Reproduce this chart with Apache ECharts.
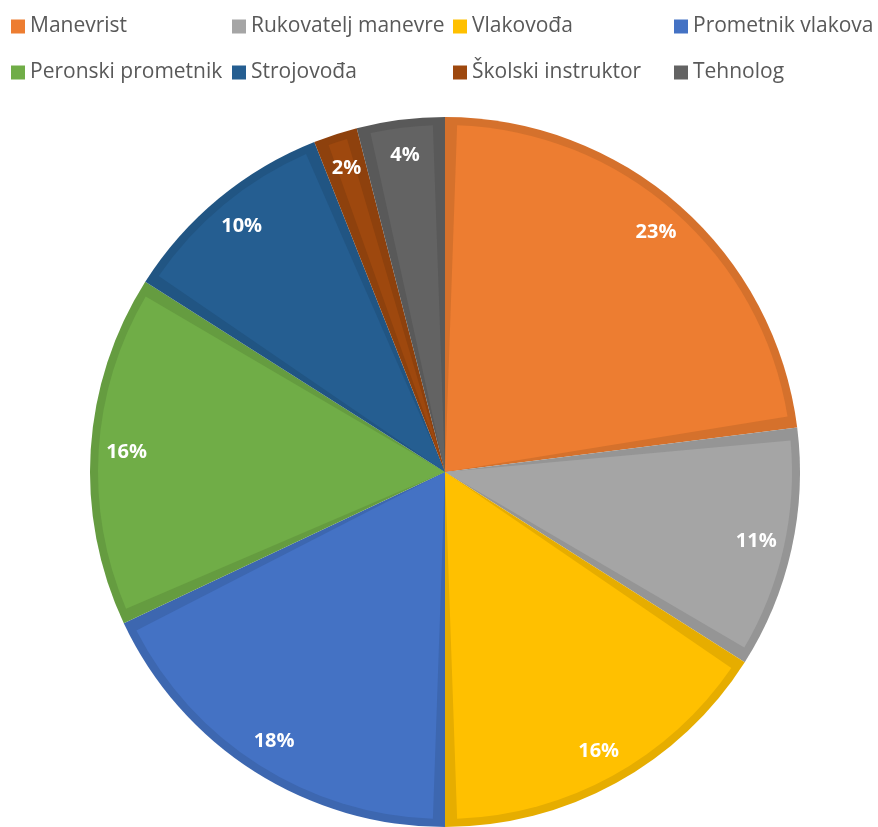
<!DOCTYPE html>
<html>
<head>
<meta charset="utf-8">
<script src="https://cdn.jsdelivr.net/npm/echarts@6/dist/echarts.min.js"></script>
<style>
html,body{margin:0;padding:0;background:#fff;}
#chart{width:878px;height:827px;}
</style>
</head>
<body>
<div id="chart"></div>
<script>
var categories = ['Manevrist', 'Rukovatelj manevre', 'Vlakovođa', 'Prometnik vlakova', 'Peronski prometnik', 'Strojovođa', 'Školski instruktor', 'Tehnolog'];
var values = [23, 11, 16, 18, 16, 10, 2, 4];
var palette = ['#ED7D31', '#A5A5A5', '#FFC000', '#4472C4', '#70AD47', '#255E91', '#9E480E', '#636363'];

function darken(hex, f) {
  var n = parseInt(hex.slice(1), 16);
  var r = Math.round(((n >> 16) & 255) * f), g = Math.round(((n >> 8) & 255) * f), b = Math.round((n & 255) * f);
  return 'rgb(' + r + ',' + g + ',' + b + ')';
}

var darkData = categories.map(function (c, i) {
  return { name: c, value: values[i], itemStyle: { color: darken(palette[i], 0.9) } };
});
var lightData = categories.map(function (c, i) {
  return { name: c, value: values[i], itemStyle: { color: palette[i] } };
});
var labelData = categories.map(function (c, i) {
  return { name: c, value: values[i] };
});

var chart = echarts.init(document.getElementById('chart'), null, { renderer: 'canvas' });
chart.setOption({
  animation: false,
  legend: {
    left: 11,
    top: 5,
    padding: 0,
    width: 900,
    orient: 'horizontal',
    itemWidth: 14,
    itemHeight: 14,
    itemGap: 3,
    icon: 'rect',
    selectedMode: false,
    textStyle: {
      fontFamily: 'Open Sans',
      fontSize: 21,
      color: '#595959',
      width: 199,
      lineHeight: 43
    },
    data: categories.map(function (c, i) {
      return { name: c, itemStyle: { color: palette[i] } };
    })
  },
  series: [
    {
      type: 'pie',
      silent: true,
      center: [445, 472],
      radius: [0, 355],
      startAngle: 90,
      clockwise: true,
      label: { show: false },
      labelLine: { show: false },
      itemStyle: { borderWidth: 0 },
      data: darkData
    },
    {
      type: 'pie',
      silent: true,
      center: [445, 472],
      radius: [0, 347],
      startAngle: 90,
      clockwise: true,
      padAngle: 4,
      label: { show: false },
      labelLine: { show: false },
      itemStyle: { borderWidth: 0 },
      data: lightData
    },
    {
      type: 'pie',
      silent: true,
      center: [445, 472],
      radius: [277, 355],
      startAngle: 90,
      clockwise: true,
      itemStyle: { color: 'rgba(0,0,0,0)', borderWidth: 0 },
      labelLine: { show: false },
      label: {
        show: true,
        position: 'inside',
        formatter: '{c}%',
        color: '#ffffff',
        fontFamily: 'Open Sans',
        fontWeight: 'bold',
        fontSize: 20
      },
      data: labelData
    }
  ]
});
</script>
</body>
</html>
